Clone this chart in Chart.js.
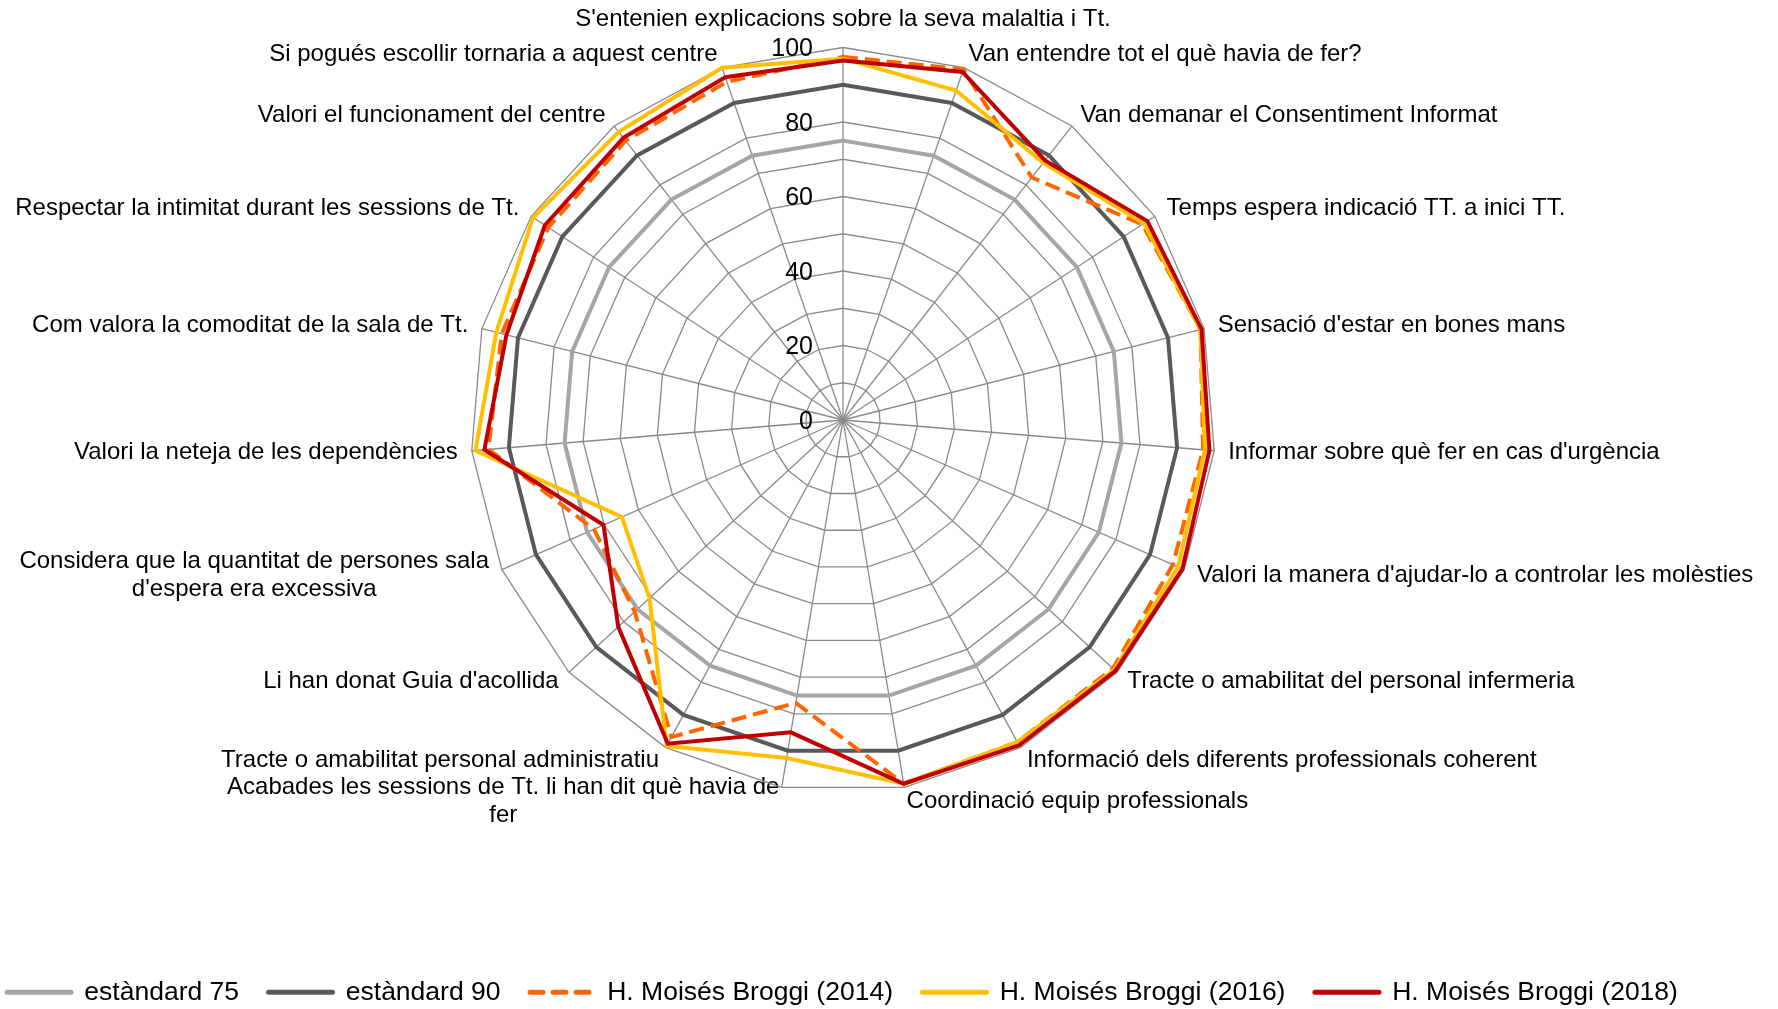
<!DOCTYPE html>
<html lang="ca">
<head>
<meta charset="utf-8">
<title>Enquesta de satisfacció</title>
<script src="https://cdn.jsdelivr.net/npm/chart.js@4.4.1/dist/chart.umd.min.js"></script>
<style>
  html, body { margin: 0; padding: 0; background: #ffffff; }
  #wrap { width: 1778px; height: 1009px; }
</style>
</head>
<body>
<div id="wrap"><canvas id="radar" width="1778" height="1009"></canvas></div>
<script>
// Survey items, clockwise from the top
const categories = [
  "S'entenien explicacions sobre la seva malaltia i Tt.",
  "Van entendre tot el què havia de fer?",
  "Van demanar el Consentiment Informat",
  "Temps espera indicació TT. a inici TT.",
  "Sensació d'estar en bones mans",
  "Informar sobre què fer en cas d'urgència",
  "Valori la manera d'ajudar-lo a controlar les molèsties",
  "Tracte o amabilitat del personal infermeria",
  "Informació dels diferents professionals coherent",
  "Coordinació equip professionals",
  ["Acabades les sessions de Tt. li han dit què havia de", "fer"],
  "Tracte o amabilitat personal administratiu",
  "Li han donat Guia d'acollida",
  ["Considera que la quantitat de persones sala", "d'espera era excessiva"],
  "Valori la neteja de les dependències",
  "Com valora la comoditat de la sala de Tt.",
  "Respectar la intimitat durant les sessions de Tt.",
  "Valori el funcionament del centre",
  "Si pogués escollir tornaria a aquest centre"
];

const seriesNames = [
  "estàndard 75",
  "estàndard 90",
  "H. Moisés Broggi (2014)",
  "H. Moisés Broggi (2016)",
  "H. Moisés Broggi (2018)"
];

const standard75 = [75, 75, 75, 75, 75, 75, 75, 75, 75, 75, 75, 75, 75, 75, 75, 75, 75, 75, 75];
const standard90 = [90, 90, 90, 90, 90, 90, 90, 90, 90, 90, 90, 90, 90, 90, 90, 90, 90, 90, 90];
const broggi2014 = [97.5, 99.5, 82.5, 96, 99, 97, 96.7, 98.5, 98.3, 99, 77, 96.8, 76, 73, 95.5, 94.5, 94.5, 95, 96];
const broggi2016 = [97, 93.5, 87.5, 96.5, 99, 97.5, 98.2, 99, 98.3, 99, 92, 99.5, 70.6, 64.8, 99, 96, 99.4, 98, 100];
const broggi2018 = [96.5, 98.8, 88.3, 97.6, 99.3, 98.7, 99.5, 99.4, 99.3, 99, 85, 98.8, 82, 70.2, 96.6, 93.2, 95.6, 96, 97.3];

const tickLabels = [0, 20, 40, 60, 80, 100];

// Geometry of the web
const CENTER_X = 843;
const CENTER_Y = 420;
const RADIUS = 372.5;
const LABEL_GAP = 14;
const TICK_OFFSET = 30;
const TICK_DROP = 2;

const FONT_FAMILY = '"Liberation Sans", Arial, Helvetica, sans-serif';
const SERIES_DASH = [15, 7];
const LEGEND_DASH = [13, 10];

// Pin the web's centre and size, then lay the item labels out around it:
// side labels are centred vertically on their anchor, two-line labels are centred line by line.
function placeWeb(scale) {
  scale.xCenter = CENTER_X;
  scale.yCenter = CENTER_Y;
  scale.drawingArea = RADIUS;
  const items = scale._pointLabelItems || [];
  items.forEach((item, i) => {
    const w = item.right - item.left;
    const h = item.bottom - item.top;
    const p = scale.getPointPosition(i, RADIUS + LABEL_GAP);
    let left, top;
    if (item.textAlign === 'center') {
      left = p.x - w / 2;
      top = p.y < scale.yCenter ? p.y - h : p.y;
    } else {
      left = item.textAlign === 'left' ? p.x : p.x - w;
      top = p.y - h / 2;
    }
    item.left = left;
    item.right = left + w;
    item.top = top;
    item.bottom = top + h;
    item.y = top;
    if (Array.isArray(scale._pointLabels[i])) {
      item.textAlign = 'center';
      item.x = left + w / 2;
    } else if (item.textAlign === 'center') {
      item.x = p.x;
    } else {
      item.x = item.textAlign === 'left' ? left : left + w;
    }
  });
}

// Value labels on the vertical spoke, right-aligned beside it
const radialTickLabels = {
  id: 'radialTickLabels',
  beforeDatasetsDraw(chart) {
    const s = chart.scales.r;
    const ctx = chart.ctx;
    ctx.save();
    ctx.font = '25px ' + FONT_FAMILY;
    ctx.fillStyle = '#000000';
    ctx.textAlign = 'right';
    ctx.textBaseline = 'middle';
    tickLabels.forEach(v => {
      const d = s.getDistanceFromCenterForValue(v);
      ctx.fillText(String(v), s.xCenter - TICK_OFFSET, s.yCenter - d + TICK_DROP);
    });
    ctx.restore();
  }
};

function lineSet(label, data, color, order, dash) {
  return {
    label: label,
    data: data,
    borderColor: color,
    backgroundColor: color,
    borderWidth: 4,
    borderDash: dash || [],
    pointRadius: 0,
    pointHoverRadius: 0,
    fill: false,
    tension: 0,
    order: order
  };
}

// Legend samples drawn as short strokes in each series' colour and dash
function legendItems(chart) {
  const items = Chart.defaults.plugins.legend.labels.generateLabels(chart);
  items.forEach(it => {
    const ds = chart.data.datasets[it.datasetIndex];
    it.strokeStyle = ds.borderColor;
    it.fillStyle = ds.borderColor;
    it.lineWidth = 5;
    it.lineCap = 'round';
    it.lineDash = ds.borderDash && ds.borderDash.length ? LEGEND_DASH : [];
  });
  return items;
}

new Chart(document.getElementById('radar'), {
  type: 'radar',
  data: {
    labels: categories,
    datasets: [
      lineSet(seriesNames[0], standard75, '#a5a5a5', 5),
      lineSet(seriesNames[1], standard90, '#595959', 4),
      lineSet(seriesNames[2], broggi2014, '#ff6600', 3, SERIES_DASH),
      lineSet(seriesNames[3], broggi2016, '#ffc000', 2),
      lineSet(seriesNames[4], broggi2018, '#c00000', 1)
    ]
  },
  options: {
    responsive: false,
    maintainAspectRatio: false,
    devicePixelRatio: 1,
    animation: false,
    layout: { padding: { left: -93, right: 0, top: 0, bottom: -6.5 } },
    scales: {
      r: {
        min: 0,
        max: 100,
        startAngle: 0,
        afterFit: placeWeb,
        ticks: { stepSize: 10, display: false },
        grid: { color: '#8a8a8a', lineWidth: 1.3, circular: false },
        angleLines: { color: '#8a8a8a', lineWidth: 1.3 },
        pointLabels: {
          display: true,
          padding: LABEL_GAP,
          color: '#000000',
          font: { family: FONT_FAMILY, size: 24, lineHeight: 1.15 }
        }
      }
    },
    plugins: {
      tooltip: { enabled: false },
      legend: {
        display: true,
        position: 'bottom',
        labels: {
          usePointStyle: true,
          pointStyle: 'line',
          pointStyleWidth: 64,
          padding: 29.5,
          color: '#000000',
          font: { family: FONT_FAMILY, size: 26.5 },
          generateLabels: legendItems,
          sort: (a, b) => a.datasetIndex - b.datasetIndex
        }
      }
    }
  },
  plugins: [radialTickLabels]
});
</script>
</body>
</html>
